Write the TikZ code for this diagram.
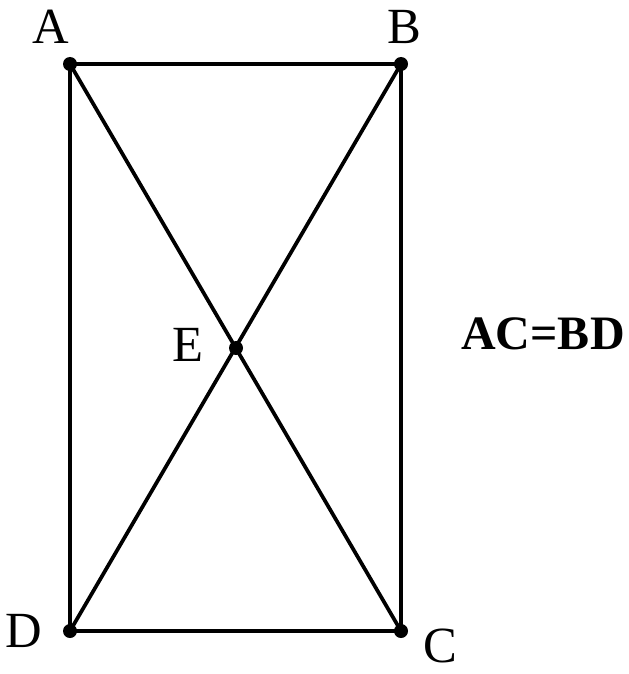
\documentclass[tikz,border=0pt]{standalone}
\usepackage{fontspec}
\setmainfont{Liberation Serif}
\usetikzlibrary{positioning}

\begin{document}
\begin{tikzpicture}[
  x=0.75pt, y=-0.75pt,
  every node/.style={align=center},
  dot/.style  ={circle, fill=black, inner sep=0pt, minimum size=10.5pt},
  lbl/.style  ={inner sep=0pt, font=\fontsize{38}{42}\selectfont},
  edge/.style ={line width=2.8pt, draw=black},
  note/.style ={inner sep=0pt, font=\fontsize{36}{40}\selectfont\bfseries},
]
\useasboundingbox (0,0) rectangle (628,674);

% -------- points ----------------------------------------------------------
\node[dot] (A) at (70,64) {};
\node[dot] (B) at (401,64) {};
\node[dot] (C) at (401,631) {};
\node[dot] (D) at (70,631) {};
\node[dot] (E) at (236,348) {};

% -------- sides and diagonals --------------------------------------------
\draw[edge] (A.center) -- (B.center) -- (C.center) -- (D.center) -- cycle;
\draw[edge] (A.center) -- (C.center);
\draw[edge] (B.center) -- (D.center);

% -------- labels ----------------------------------------------------------
\node[lbl] (lA) at (51,27) {A};
\node[lbl] (lB) at (404,27) {B};
\node[lbl] (lC) at (440,646) {C};
\node[lbl] (lD) at (24,631) {D};
\node[lbl] (lE) at (188,345) {E};

\node[note] (eq) at (543,334) {AC=BD};

\end{tikzpicture}
\end{document}
